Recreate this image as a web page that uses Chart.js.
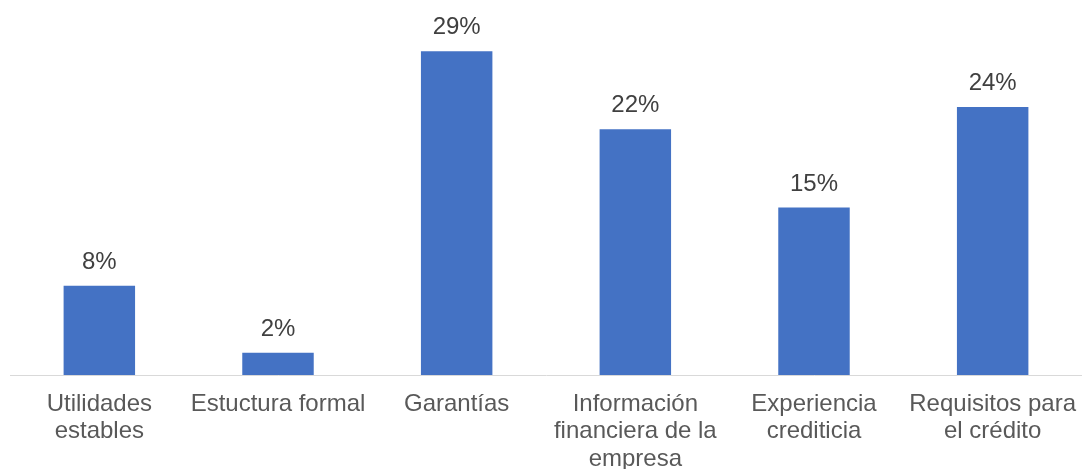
<!DOCTYPE html>
<html>
<head>
<meta charset="utf-8">
<script src="https://cdn.jsdelivr.net/npm/chart.js@4/dist/chart.umd.min.js"></script>
<style>
  html, body { margin: 0; padding: 0; background: #fff; }
  #wrap { width: 1082px; height: 469px; position: relative; }
</style>
</head>
<body>
<div id="wrap"><canvas id="chart"></canvas></div>
<script>
const categories = [
  ['Utilidades', 'estables'],
  'Estuctura formal',
  'Garantías',
  ['Información', 'financiera de la', 'empresa'],
  ['Experiencia', 'crediticia'],
  ['Requisitos para', 'el crédito'],
];
const values = [8, 2, 29, 22, 15, 24];
const valueLabels = ['8%', '2%', '29%', '22%', '15%', '24%'];

const FONT = "'Liberation Sans', Arial, sans-serif";

// draws the percentage above each bar
const barLabels = {
  id: 'barLabels',
  afterDatasetsDraw(chart) {
    const ctx = chart.ctx;
    const meta = chart.getDatasetMeta(0);
    ctx.save();
    ctx.font = '24px ' + FONT;
    ctx.fillStyle = '#404040';
    ctx.textAlign = 'center';
    ctx.textBaseline = 'alphabetic';
    meta.data.forEach((bar, i) => {
      ctx.fillText(valueLabels[i], bar.x, bar.y - 17);
    });
    ctx.restore();
  },
};

new Chart(document.getElementById('chart'), {
  type: 'bar',
  data: {
    labels: categories,
    datasets: [{
      data: values,
      backgroundColor: '#4472C4',
      borderWidth: 0,
      barPercentage: 0.4,
      categoryPercentage: 1,
    }],
  },
  options: {
    responsive: true,
    maintainAspectRatio: false,
    animation: false,
    layout: { padding: { top: 40, left: 10, right: 0, bottom: 0 } },
    plugins: {
      legend: { display: false },
      title: { display: false },
      tooltip: { enabled: false },
    },
    scales: {
      x: {
        grid: { display: false, drawTicks: false },
        border: { display: true, color: '#d9d9d9', width: 1 },
        ticks: {
          padding: 15,
          color: '#595959',
          maxRotation: 0,
          autoSkip: false,
          font: { family: FONT, size: 24, lineHeight: 1.16 },
        },
        afterFit(scale) {
          scale.height = 94;
          scale.paddingLeft = 0;
          scale.paddingRight = 0;
        },
      },
      y: {
        display: false,
        min: 0,
        max: 30,
      },
    },
  },
  plugins: [barLabels],
});
</script>
</body>
</html>
